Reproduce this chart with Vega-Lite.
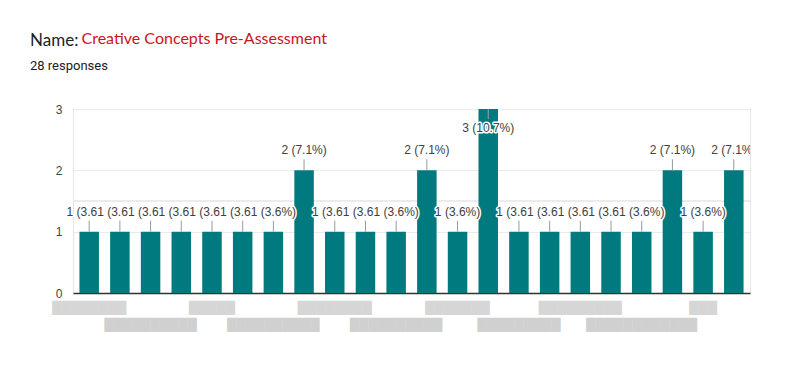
{
  "$schema": "https://vega.github.io/schema/vega-lite/v6.json",
  "width": 677,
  "height": 184,
  "autosize": {"type": "none"},
  "padding": {"left": 73, "top": 109, "right": 50, "bottom": 80},
  "background": "white",
  "config": {"view": {"stroke": "#e6e6e6"}, "font": "Liberation Sans"},
  "title": {
    "text": "Name:",
    "subtitle": "28 responses",
    "anchor": "start",
    "frame": "group",
    "dx": -43,
    "dy": 48,
    "font": "Lato",
    "fontSize": 17,
    "fontWeight": "normal",
    "color": "#202124",
    "subtitleFont": "Roboto",
    "subtitleFontSize": 13,
    "subtitleColor": "#202124",
    "subtitlePadding": 10
  },
  "data": {
    "values": [
      {"student": "S01", "count": 1, "label": "1 (3.6%)"},
      {"student": "S02", "count": 1, "label": "1 (3.6%)"},
      {"student": "S03", "count": 1, "label": "1 (3.6%)"},
      {"student": "S04", "count": 1, "label": "1 (3.6%)"},
      {"student": "S05", "count": 1, "label": "1 (3.6%)"},
      {"student": "S06", "count": 1, "label": "1 (3.6%)"},
      {"student": "S07", "count": 1, "label": "1 (3.6%)"},
      {"student": "S08", "count": 2, "label": "2 (7.1%)"},
      {"student": "S09", "count": 1, "label": "1 (3.6%)"},
      {"student": "S10", "count": 1, "label": "1 (3.6%)"},
      {"student": "S11", "count": 1, "label": "1 (3.6%)"},
      {"student": "S12", "count": 2, "label": "2 (7.1%)"},
      {"student": "S13", "count": 1, "label": "1 (3.6%)"},
      {"student": "S14", "count": 3, "label": "3 (10.7%)"},
      {"student": "S15", "count": 1, "label": "1 (3.6%)"},
      {"student": "S16", "count": 1, "label": "1 (3.6%)"},
      {"student": "S17", "count": 1, "label": "1 (3.6%)"},
      {"student": "S18", "count": 1, "label": "1 (3.6%)"},
      {"student": "S19", "count": 1, "label": "1 (3.6%)"},
      {"student": "S20", "count": 2, "label": "2 (7.1%)"},
      {"student": "S21", "count": 1, "label": "1 (3.6%)"},
      {"student": "S22", "count": 2, "label": "2 (7.1%)"}
    ]
  },
  "transform": [
    {"window": [{"op": "lead", "field": "count", "as": "nextCount"}], "sort": [{"field": "student"}]}
  ],
  "encoding": {
    "x": {
      "field": "student",
      "type": "nominal",
      "sort": null,
      "scale": {"paddingInner": 0.365, "paddingOuter": 0.21},
      "axis": {
        "title": null,
        "labelExpr": "datum.value == 'S01' ? '████████' : datum.value == 'S03' ? '██████████' : datum.value == 'S05' ? '█████' : datum.value == 'S07' ? '██████████' : datum.value == 'S09' ? '████████' : datum.value == 'S11' ? '██████████' : datum.value == 'S13' ? '███████' : datum.value == 'S15' ? '█████████' : datum.value == 'S17' ? '█████████' : datum.value == 'S19' ? '████████████' : datum.value == 'S21' ? '███' : ''",
        "labelAngle": 0,
        "labelFont": "DejaVu Sans",
        "labelFontSize": 12,
        "labelColor": {"condition": {"test": "indexof(['S03','S07','S11','S15','S19'], datum.value) >= 0", "value": "#d0d0d0"}, "value": "#d6d6d6"},
        "labelBaseline": "top",
        "labelPadding": {"condition": {"test": "indexof(['S03','S07','S11','S15','S19'], datum.value) >= 0", "value": 26}, "value": 9},
        "labelOverlap": false,
        "labelBound": false,
        "labelLimit": 0,
        "ticks": false,
        "domainColor": "#333333",
        "domainWidth": 1.5
      }
    },
    "y": {
      "field": "count",
      "type": "quantitative",
      "scale": {"domain": [0, 3], "nice": false},
      "axis": {
        "title": "Creative Concepts Pre-Assessment",
        "titleAngle": 0,
        "titleAlign": "left",
        "titleBaseline": "alphabetic",
        "titleX": 8,
        "titleY": -66,
        "titleFont": "Lato",
        "titleFontSize": 16,
        "titleFontWeight": "normal",
        "titleColor": "#c8161d",
        "values": [0, 1, 2, 3],
        "format": "d",
        "labelOverlap": false,
        "domain": false,
        "ticks": false,
        "labelPadding": 11,
        "labelColor": "#444444",
        "labelFontSize": 12,
        "labelFont": "Liberation Sans",
        "gridColor": "#ebebeb"
      }
    }
  },
  "layer": [
    {
      "mark": {"type": "rule", "color": "#ebebeb"},
      "encoding": {"y": {"datum": 1.5}, "x": {"value": 0}, "x2": {"value": "width"}}
    },
    {"mark": {"type": "bar", "color": "#007a7e"}},
    {
      "transform": [{"filter": "datum.count < 3"}],
      "mark": {"type": "rule", "color": "#999999", "y2Offset": -11},
      "encoding": {"y2": {"field": "count"}}
    },
    {
      "transform": [{"filter": "datum.count == 3"}],
      "mark": {"type": "rule", "color": "#9aa5a5", "y2Offset": 10},
      "encoding": {"y2": {"field": "count"}}
    },
    {
      "transform": [{"filter": "datum.count < 3 && datum.nextCount == datum.count"}],
      "mark": {"type": "text", "align": "left", "baseline": "middle", "dx": -22.7, "dy": -20, "limit": 33, "ellipsis": "\u200b", "fontSize": 12, "color": "white", "stroke": "white", "strokeWidth": 3, "strokeJoin": "round"},
      "encoding": {"text": {"field": "label"}}
    },
    {
      "transform": [{"filter": "datum.count < 3 && datum.nextCount != datum.count"}],
      "mark": {"type": "text", "align": "center", "baseline": "middle", "dy": -20, "fontSize": 12, "color": "white", "stroke": "white", "strokeWidth": 3, "strokeJoin": "round", "clip": true},
      "encoding": {"text": {"field": "label"}}
    },
    {
      "transform": [{"filter": "datum.count == 3"}],
      "mark": {"type": "text", "align": "center", "baseline": "middle", "dy": 19, "fontSize": 12, "color": "white", "stroke": "white", "strokeWidth": 3, "strokeJoin": "round"},
      "encoding": {"text": {"field": "label"}}
    },
    {
      "transform": [{"filter": "datum.count < 3 && datum.nextCount == datum.count"}],
      "mark": {"type": "text", "align": "left", "baseline": "middle", "dx": -22.7, "dy": -20, "limit": 33, "ellipsis": "\u200b", "fontSize": 12, "color": "#404040"},
      "encoding": {"text": {"field": "label"}}
    },
    {
      "transform": [{"filter": "datum.count < 3 && datum.nextCount != datum.count"}],
      "mark": {"type": "text", "align": "center", "baseline": "middle", "dy": -20, "fontSize": 12, "color": "#404040", "clip": true},
      "encoding": {"text": {"field": "label"}}
    },
    {
      "transform": [{"filter": "datum.count == 3"}],
      "mark": {"type": "text", "align": "center", "baseline": "middle", "dy": 19, "fontSize": 12, "color": "#404040"},
      "encoding": {"text": {"field": "label"}}
    }
  ]
}
